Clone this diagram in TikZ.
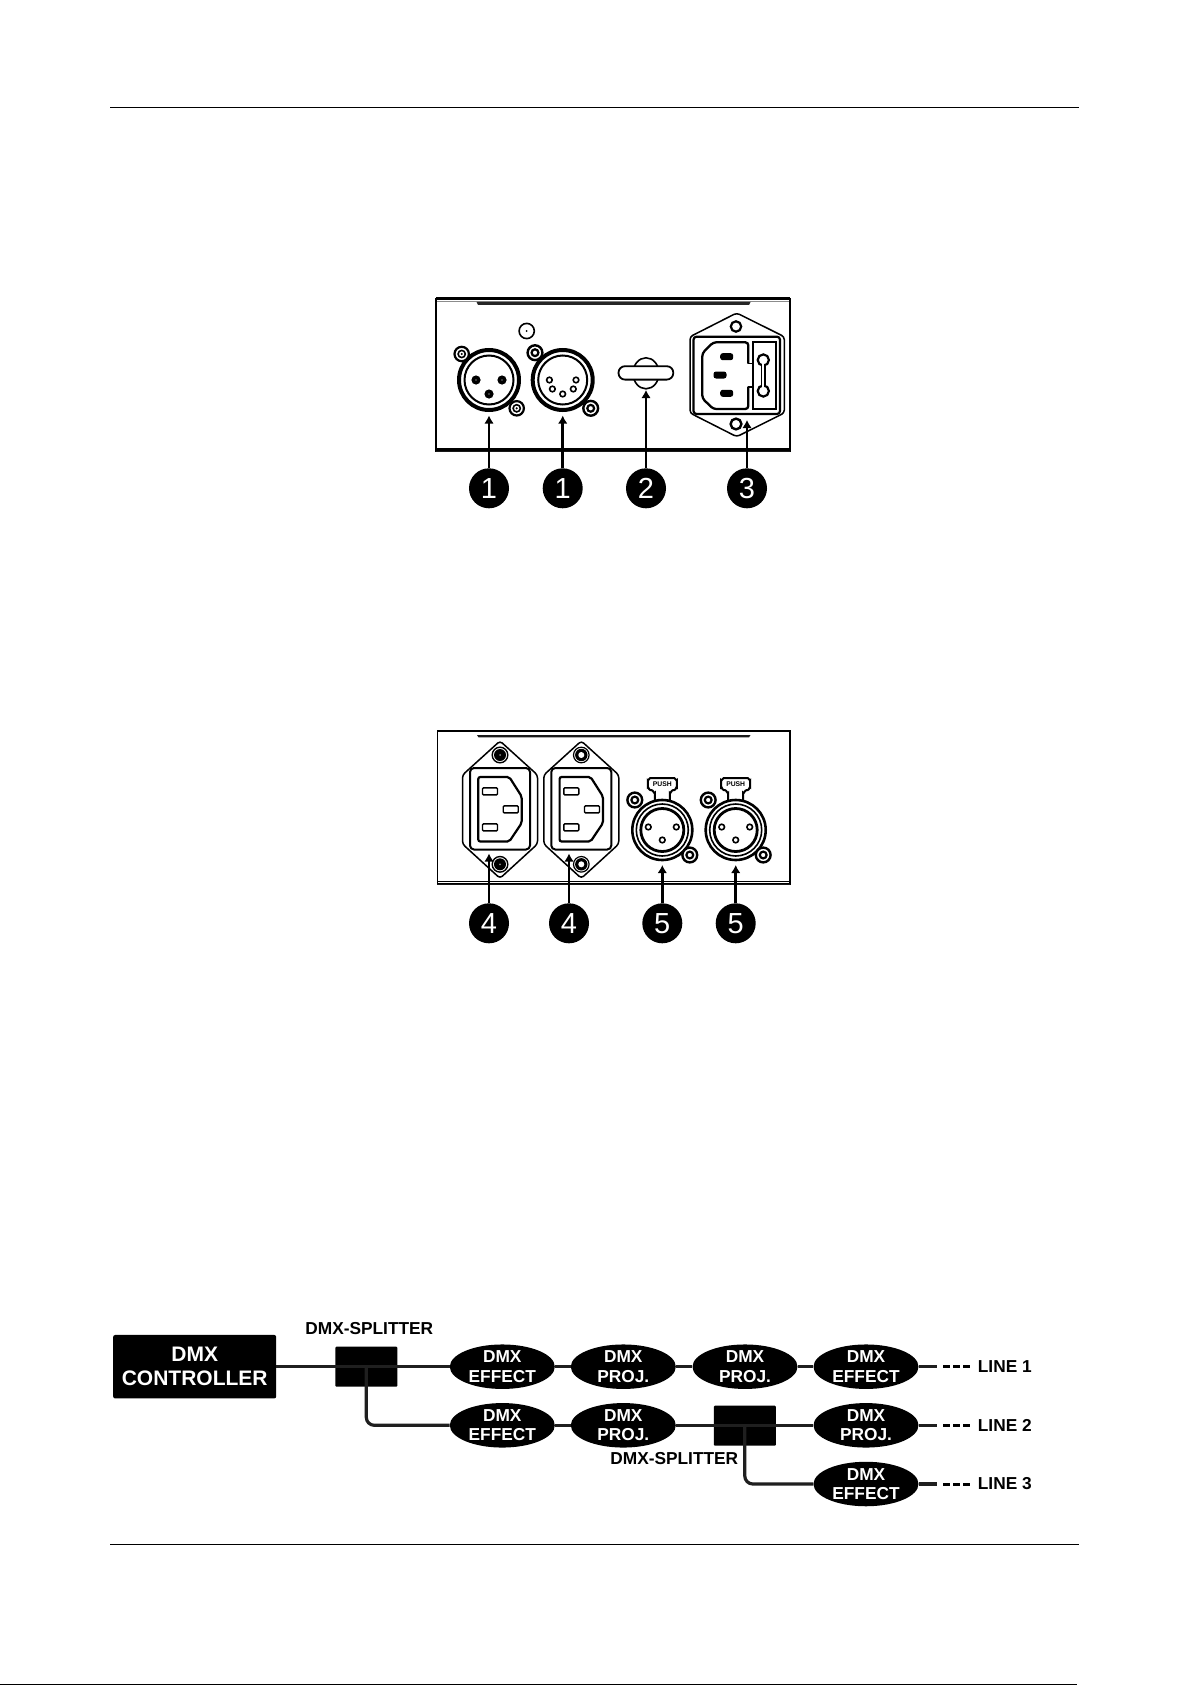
\documentclass[tikz,border=0pt]{standalone}
\usepackage{fontspec}
\setmainfont{Liberation Sans}
\usetikzlibrary{arrows.meta,shapes.geometric}
\tikzset{
 x=1pt,y=-1pt,
 rulel/.style={line width=1.1pt,black},
 panel/.style={line width=1.6pt,black,fill=white},
 arr/.style={line width=2.8pt,black,-{Latex[length=8pt,width=9.5pt]},shorten >=0pt},
 numc/.style={circle,fill=black,text=white,minimum size=40pt,inner sep=0pt,font=\fontsize{29}{29}\selectfont},
 wire/.style={line width=3.2pt,color=black!88},
 dashw/.style={line width=3pt,black,dash pattern=on 6.8pt off 3.2pt},
 ctrlbox/.style={rectangle,fill=black,rounded corners=2pt,minimum width=163pt,minimum height=63.5pt,inner sep=0pt,text=white,align=center,font=\fontsize{21}{24.3}\selectfont\bfseries},
 splitbox/.style={rectangle,fill=black,rounded corners=1pt,minimum width=62pt,minimum height=40pt,inner sep=0pt},
 dev/.style={ellipse,fill=black,minimum width=105pt,minimum height=43.5pt,inner sep=0pt,text=white,align=center,font=\fontsize{17.3}{19.4}\selectfont\bfseries},
 lab/.style={inner sep=0pt,font=\fontsize{17.3}{20}\selectfont\bfseries,black},
}
\newcommand{\screwA}[2]{\draw[black,line width=2.2pt,fill=white] (#1,#2) circle [radius=7.2];\draw[black,line width=1.6pt] (#1,#2) circle [radius=3.6];\fill[black] (#1,#2) circle [radius=1.2];}
\newcommand{\screwB}[2]{\draw[black,line width=2.4pt,fill=white] (#1,#2) circle [radius=7.4];\draw[black,line width=2.2pt] (#1,#2) circle [radius=3.4];}
\newcommand{\screwC}[2]{\draw[black,line width=1.4pt,fill=white] (#1,#2) circle [radius=7.8];\fill[black] (#1,#2) circle [radius=6];\fill[black!45] (#1,#2) circle [radius=1];}
\newcommand{\screwD}[2]{\draw[black,line width=1.2pt,fill=white] (#1,#2) circle [radius=7.8];\fill[black] (#1,#2) circle [radius=6.2];\fill[white] (#1,#2) circle [radius=3];}
\newcommand{\ringpair}[2]{\draw[black,line width=4pt,fill=white] (#1,#2) circle [radius=30];\draw[black,line width=2pt] (#1,#2) circle [radius=24.5];}
\newcommand{\pinF}[2]{\draw[black,line width=1.6pt,fill=white] (#1,#2) circle [radius=2.8];}
\newcommand{\pinM}[2]{\fill[black] (#1,#2) circle [radius=4.6];\fill[black!55] (#1,#2) circle [radius=0.8];}
% push connector, centre
\newcommand{\pushxlr}[3]{%
 \begin{scope}[shift={(#1,#2)}]
 \draw[black,line width=2pt,fill=white] (-7.5,-30) -- (-7.5,-37) to[out=-90,in=0] (-11,-40) -- (-12,-40) to[out=180,in=90] (-14.5,-43) -- (-14.5,-49.5) to[out=-90,in=180] (-12,-52) -- (12,-52) to[out=0,in=-90] (14.5,-49.5) -- (14.5,-43) to[out=90,in=0] (12,-40) -- (11,-40) to[out=180,in=-90] (7.5,-37) -- (7.5,-30);
 \node[inner sep=0pt,font=\fontsize{6.8}{7}\selectfont\bfseries] (#3) at (0,-45.8) {PUSH};
 \draw[black,line width=2.6pt,fill=white] (0,0) circle [radius=30];
 \draw[black,line width=1.6pt] (0,0) circle [radius=26];
 \draw[black,line width=2.8pt] (0,0) circle [radius=21.5];
 \pinF{-14}{-3}\pinF{14}{-3}\pinF{0}{10}
 \screwB{-27.5}{-30}\screwB{27.5}{25}
 \end{scope}}
\newcommand{\iecout}[3]{%
 \begin{scope}[shift={(#1,#2)}]
 \draw[black,line width=1.5pt,fill=white,rounded corners=3pt] (0,-39.5) -- (37.5,-5.5) -- (37.5,63.5) -- (0,97.8) -- (-37.5,63.5) -- (-37.5,-5.5) -- cycle;
 \draw[black,line width=2pt,rounded corners=4pt] (-30,-12.5) rectangle (30,69);
 \draw[black,line width=2.2pt,rounded corners=2pt] (-21.7,-3.5) -- (9.3,-3.5) -- (21.7,16) -- (21.7,42.5) -- (9.3,61) -- (-21.7,61) -- cycle;
 \draw[black,line width=1.4pt,rounded corners=1pt] (-17.5,7.4) rectangle (-2.5,14.4);
 \draw[black,line width=1.4pt,rounded corners=1pt] (3.2,25.4) rectangle (18.2,32.4);
 \draw[black,line width=1.4pt,rounded corners=1pt] (-17.5,43.4) rectangle (-2.5,50.4);
 #3
 \end{scope}}
\begin{document}
\begin{tikzpicture}
\useasboundingbox (0,0) rectangle (1192,1685);
\fill[white] (0,0) rectangle (1192,1685);
% page rules
\coordinate (rt1) at (110,107.2);\coordinate (rt2) at (1079,107.2);
\coordinate (rb1) at (110,1544.5);\coordinate (rb2) at (1079,1544.5);
\coordinate (rz1) at (0,1684.3);\coordinate (rz2) at (1077,1684.3);
\draw[rulel] (rt1) -- (rt2);
\draw[rulel] (rb1) -- (rb2);
\draw[line width=1.4pt,black] (rz1) -- (rz2);

% ---- panel 1
\draw[panel] (436,298.5) rectangle (790,451);
\draw[black!45,line width=1.2pt] (437,301.5) -- (789,301.5);
\draw[black,line width=2.6pt] (436,298.5) -- (790,298.5);
\draw[black,line width=2pt] (436,448.5) -- (790,448.5);
\draw[black!90,line width=1.4pt] (436,451.5) -- (790,451.5);
\fill[black!85] (476.5,302) -- (750.5,302) -- (749,305) -- (478,305) -- cycle;
\draw[black,line width=1.6pt,fill=white] (526.7,331) circle [radius=7.6];
\fill[black] (526.7,331) circle [radius=1];
% XLR male
\ringpair{489}{380}
\pinM{476}{380}\pinM{502}{380}\pinM{489}{394}
\screwA{461.7}{354}\screwA{516.7}{408.3}
% XLR five pin
\ringpair{562.7}{380}
\pinF{549.4}{380}\pinF{576}{380}\pinF{552.4}{389}\pinF{573.3}{389}\pinF{562.7}{394}
\screwB{535}{352.7}\screwB{590.7}{408.3}
% strain relief
\draw[black,line width=1.6pt,fill=white] (646,373.3) ellipse [x radius=13,y radius=15.5];
\draw[black,line width=1.8pt,fill=white,rounded corners=6.5pt] (618.5,366.2) rectangle (673.3,379.6);
% IEC inlet with fuse
\draw[black,line width=1.5pt,fill=white,rounded corners=3pt] (736.7,313) -- (784.3,336.7) -- (784.3,413) -- (736.7,436.7) -- (690,413) -- (690,336.7) -- cycle;
\draw[black,line width=2.2pt,rounded corners=3pt] (693.5,336.7) rectangle (780,414);
\draw[black,line width=2pt] (753,342.3) rectangle (775.7,409);
\draw[black,line width=2.3pt,rounded corners=3pt] (748.3,363.5) -- (748.3,342.3) -- (713.3,342.3) -- (702.3,353.3) -- (702.3,398.3) -- (713.3,409) -- (748.3,409) -- (748.3,386.7);
\draw[black,line width=1.6pt] (748.3,363.5) -- (753,363.5) (748.3,386.7) -- (753,386.7);
\draw[black,line width=2.2pt,fill=white] (763.3,360) circle [radius=5.6];
\draw[black,line width=2.2pt,fill=white] (763.3,391) circle [radius=5.6];
\draw[black,line width=5.6pt] (763.3,364) -- (763.3,387);
\draw[white,line width=2pt] (763.3,358) -- (763.3,393);
\fill[black,rounded corners=2.5pt] (720.2,353.2) rectangle (733.2,360.2);
\fill[black,rounded corners=2.5pt] (713.5,371.5) rectangle (726.5,378.5);
\fill[black,rounded corners=2.5pt] (720.2,389.8) rectangle (733.2,396.8);
\draw[black,line width=2.2pt,fill=white] (736,326.5) circle [radius=5.2];
\draw[black,line width=2.4pt,fill=white] (736,424) circle [radius=5.4];
% callouts 1
\node[numc] (n1a) at (489,488.3) {1};
\node[numc] (n1b) at (562.7,488.3) {1};
\node[numc] (n2) at (646,488.3) {2};
\node[numc] (n3) at (747,488.3) {3};
\coordinate (t1a) at (489,415.5);
\coordinate (t1b) at (562.7,415.5);
\coordinate (t2) at (646,390);
\coordinate (t3) at (747,420);
\draw[arr] (n1a) -- (t1a);
\draw[arr] (n1b) -- (t1b);
\draw[arr] (n2) -- (t2);
\draw[arr] (n3) -- (t3);

% ---- panel 2
\draw[panel] (437.3,731) rectangle (790,884);
\draw[black,line width=2.4pt] (437.3,731) -- (790,731);
\draw[black,line width=1.4pt] (437.3,881.3) -- (790,881.3);
\draw[black!90,line width=1.8pt] (437.3,884.5) -- (790,884.5);
\fill[black!90] (477,735) -- (750.5,735) -- (749,737.4) -- (478.5,737.4) -- cycle;
\iecout{500}{780.5}{\screwC{0}{-25.5}\screwC{0}{83.8}}
\iecout{581.3}{780.5}{\screwD{0}{-25.5}\screwD{0}{83.8}}
\pushxlr{662.3}{830}{pusha}
\pushxlr{735.7}{830}{pushb}
\node[numc] (n4a) at (489,923.3) {4};
\node[numc] (n4b) at (569,923.3) {4};
\node[numc] (n5a) at (662.3,923.3) {5};
\node[numc] (n5b) at (735.7,923.3) {5};
\coordinate (t4a) at (489,853.5);
\coordinate (t4b) at (569,853.5);
\coordinate (t5a) at (662.3,865);
\coordinate (t5b) at (735.7,865);
\draw[arr] (n4a) -- (t4a);
\draw[arr] (n4b) -- (t4b);
\draw[arr] (n5a) -- (t5a);
\draw[arr] (n5b) -- (t5b);

% ---- DMX chain
\node[ctrlbox] (ctrl) at (194.7,1366.7) {DMX\\CONTROLLER};
\node[splitbox] (sp1) at (366.3,1366.7) {};
\node[splitbox] (sp2) at (744.8,1425.7) {};
\node[lab] (sp1lab) at (369.3,1328.3) {DMX-SPLITTER};
\node[lab] (sp2lab) at (674.3,1458.6) {DMX-SPLITTER};
\node[dev] (a1) at (502.3,1366.7) {DMX\\EFFECT};
\node[dev] (a2) at (623.3,1366.7) {DMX\\PROJ.};
\node[dev] (a3) at (745,1366.7) {DMX\\PROJ.};
\node[dev] (a4) at (866,1366.7) {DMX\\EFFECT};
\node[dev] (b1) at (502.3,1425.3) {DMX\\EFFECT};
\node[dev] (b2) at (623.3,1425.3) {DMX\\PROJ.};
\node[dev] (b3) at (866,1425.3) {DMX\\PROJ.};
\node[dev] (c1) at (866,1484) {DMX\\EFFECT};
\draw[wire] (ctrl.east) -- (a1.west);
\draw[wire] (a1) -- (a2);
\draw[wire] (a2) -- (a3);
\draw[wire] (a3) -- (a4);
\draw[wire,rounded corners=8pt] (sp1.center) |- (b1.west);
\draw[wire] (b1) -- (b2);
\draw[wire] (b2.east) -- (b3.west);
\draw[wire,rounded corners=8pt] (sp2.center) |- (c1.west);
% line ends
\node[lab,anchor=west] (l1) at (977.7,1366.7) {LINE 1};
\node[lab,anchor=west] (l2) at (977.7,1425.3) {LINE 2};
\node[lab,anchor=west] (l3) at (977.7,1484) {LINE 3};
\coordinate (e1) at (937,1366.7);\coordinate (d1) at (943.3,1366.7);\coordinate (f1) at (971,1366.7);
\coordinate (e2) at (937,1425.3);\coordinate (d2) at (943.3,1425.3);\coordinate (f2) at (971,1425.3);
\coordinate (e3) at (937,1484);\coordinate (d3) at (943.3,1484);\coordinate (f3) at (971,1484);
\draw[wire] (a4.east) -- (e1);
\draw[wire] (b3.east) -- (e2);
\draw[wire] (c1.east) -- (e3);
\draw[dashw] (d1) -- (f1);
\draw[dashw] (d2) -- (f2);
\draw[dashw] (d3) -- (f3);
\end{tikzpicture}
\end{document}
